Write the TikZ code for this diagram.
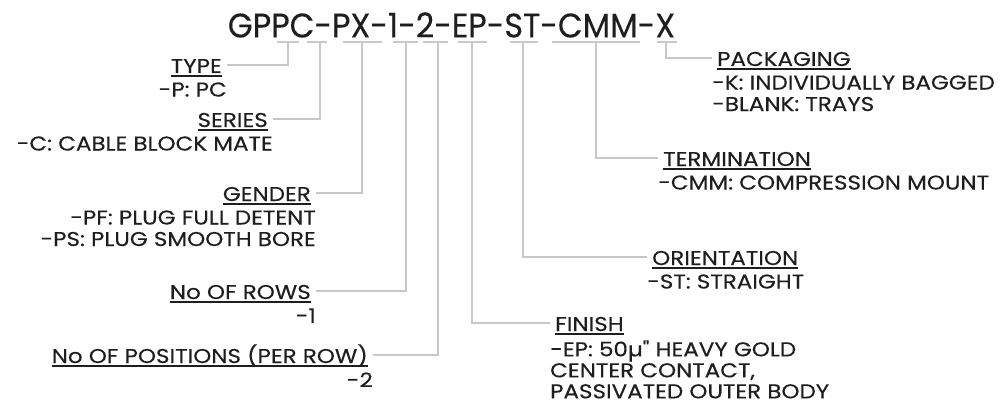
\documentclass[tikz,border=0pt]{standalone}
\usepackage{fontspec}
\setmainfont{Poppins}
\newfontfamily\codefont[FakeStretch=0.94, FakeBold=0.2]{Poppins}
\newfontfamily\notefont[FakeStretch=1.15, FakeBold=0.3]{Poppins}
\usepackage{tikz}
\usetikzlibrary{positioning, calc}
\definecolor{leadgray}{RGB}{200, 200, 200}
\definecolor{inkdark}{RGB}{30, 30, 30}
\newcommand{\ulhdr}[1]{\setbox0\hbox{#1}\rlap{\smash{\rule[-4pt]{\wd0}{1.6pt}}}\box0}
\tikzset{
	lead/.style={draw=leadgray, line width=1.5pt},
	hdrL/.style={font=\notefont\fontsize{20}{21.5}\selectfont, text=inkdark, anchor=east,
		inner xsep=5pt, inner ysep=0pt, text height=16pt, text depth=0pt},
	hdrR/.style={hdrL, anchor=west},
	descL/.style={font=\notefont\fontsize{20}{21.5}\selectfont, text=inkdark, align=right,
		inner sep=0pt, anchor=north east, yshift=-9pt},
	descR/.style={descL, align=left, anchor=north west}
}

\begin{document}
\begin{tikzpicture}[x=1pt, y=-1pt]
	\useasboundingbox (0,0) rectangle (1002,404);
	\node[font=\codefont\fontsize{34}{40}\selectfont, text=inkdark] (code) at (451.5,25) {GPPC-PX-1-2-EP-ST-CMM-X};
	% brackets under the part number
	\foreach \name/\xa/\xb/\xv in {Type/277/299/288, Series/307/327/320, Gender/343/382/362,
		Rows/393/418/406, Pos/423/448/438, Finish/458/487/472, Orient/510/538/523,
		Term/552/640/596, Pack/657/677/666} {
		\draw[lead] (\xa,42) -- (\xb,42);
		\coordinate (s\name) at (\xv,42);
	}
	% left side
	\node[hdrL] (hType) at (227,65) {\ulhdr{TYPE}};
	\node[descL] (dType) at (hType.south east) {\rule{0pt}{14pt}-P: PC};
	\node[hdrL] (hSeries) at (273,119) {\ulhdr{SERIES}};
	\node[descL] (dSeries) at (hSeries.south east) {\rule{0pt}{14pt}-C: CABLE BLOCK MATE};
	\node[hdrL] (hGender) at (316,193) {\ulhdr{GENDER}};
	\node[descL] (dGender) at (hGender.south east) {\rule{0pt}{14pt}-PF: PLUG FULL DETENT\\-PS: PLUG SMOOTH BORE};
	\node[hdrL] (hRows) at (316,291) {\ulhdr{No OF ROWS}};
	\node[descL] (dRows) at (hRows.south east) {\rule{0pt}{14pt}-1};
	\node[hdrL] (hPos) at (373,355) {\ulhdr{No OF POSITIONS (PER ROW)}};
	\node[descL] (dPos) at (hPos.south east) {\rule{0pt}{14pt}-2};
	% right side
	\node[hdrR] (hPack) at (712,58) {\ulhdr{PACKAGING}};
	\node[descR] (dPack) at (hPack.south west) {\rule{0pt}{14pt}-K: INDIVIDUALLY BAGGED\\-BLANK: TRAYS};
	\node[hdrR] (hTerm) at (658,158) {\ulhdr{TERMINATION}};
	\node[descR] (dTerm) at (hTerm.south west) {\rule{0pt}{14pt}-CMM: COMPRESSION MOUNT};
	\node[hdrR] (hOrient) at (647,257) {\ulhdr{ORIENTATION}};
	\node[descR] (dOrient) at (hOrient.south west) {\rule{0pt}{14pt}-ST: STRAIGHT};
	\node[hdrR] (hFinish) at (550,323) {\ulhdr{FINISH}};
	\node[descR, font=\notefont\fontsize{20}{21}\selectfont] (dFinish) at (hFinish.south west) {\rule{0pt}{14pt}-EP: 50µ" HEAVY GOLD\\CENTER CONTACT,\\PASSIVATED OUTER BODY};
	% leaders
	\foreach \name in {Type, Series, Gender, Rows, Pos}
		\draw[lead] (s\name) |- (h\name.east);
	\foreach \name in {Pack, Term, Orient, Finish}
		\draw[lead] (s\name) |- (h\name.west);
\end{tikzpicture}
\end{document}
